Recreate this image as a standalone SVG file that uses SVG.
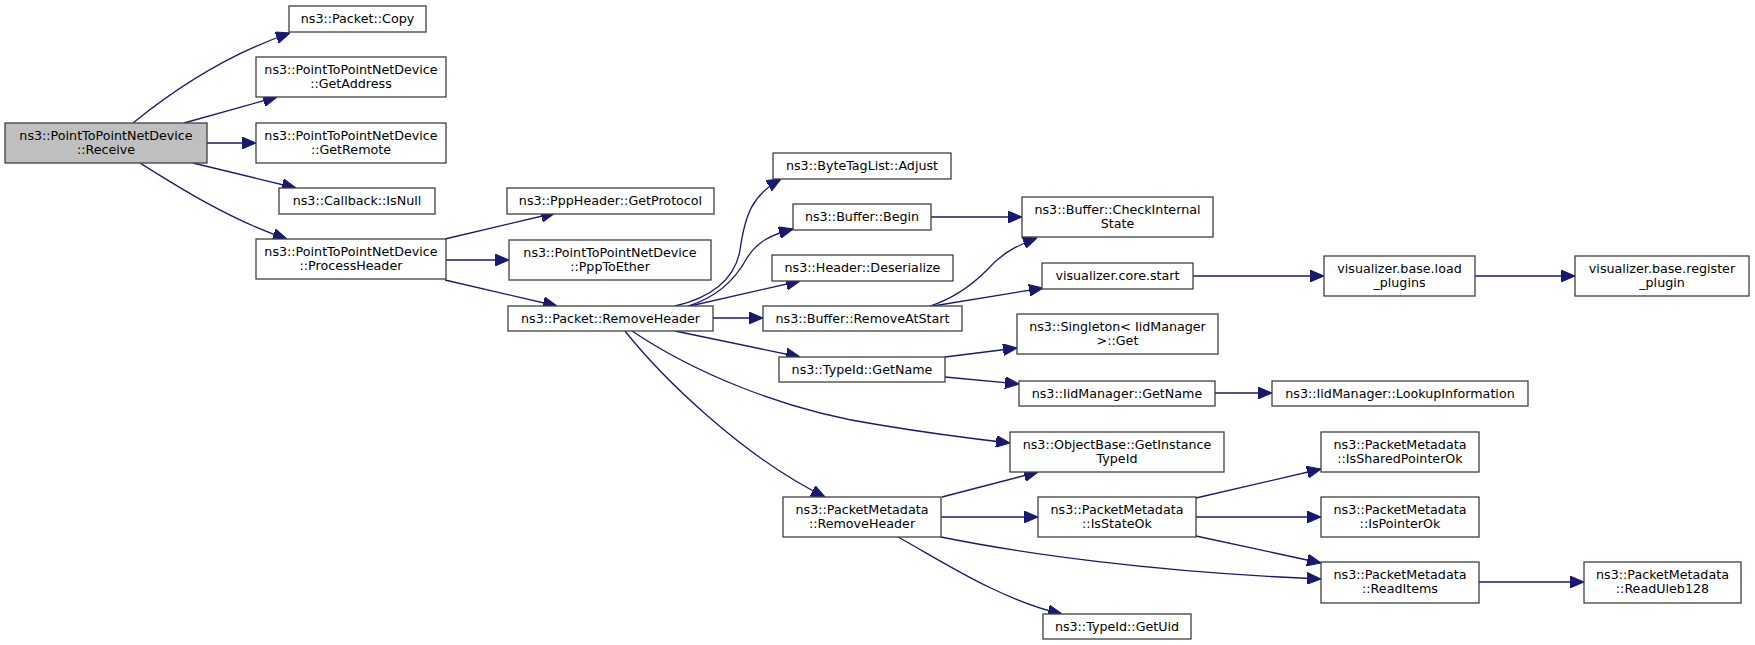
<svg xmlns="http://www.w3.org/2000/svg" width="1755" height="645" viewBox="0 0 1755 645">
<style>
.n rect{fill:#ffffff;stroke:#404040;stroke-width:1.3}
.n.h rect{fill:#bfbfbf}
.n text{font-family:"DejaVu Sans","Liberation Sans",sans-serif;font-size:12.7px;fill:#000;text-anchor:middle}
.e path{fill:none;stroke:#191970;stroke-width:1.3;marker-end:url(#a)}
</style>
<defs>
<marker id="a" markerUnits="userSpaceOnUse" markerWidth="14" markerHeight="12" viewBox="0 0 13 11" refX="13" refY="5.5" orient="auto">
<path d="M0,0 L13,5.5 L0,11 z" fill="#191970" stroke="#191970" stroke-width="1"/>
</marker>
</defs>
<rect width="1755" height="645" fill="#ffffff"/>
<g id="edges" class="e">
<path d="M133,123 C165,97 220,57 290,33"/>
<path d="M184,123 L277,97"/>
<path d="M207,143 L256,143"/>
<path d="M193,163 L296,188"/>
<path d="M140,163 C175,185 230,220 287,239"/>
<path d="M445,239 L555,213"/>
<path d="M446,260 L509,260"/>
<path d="M445,280 L557,306"/>
<path d="M675,306 C710,298 735,280 740,250 C745,215 752,195 781,179"/>
<path d="M688,306 C715,298 735,280 747,258 C757,242 770,235 793,229"/>
<path d="M690,306 L800,281"/>
<path d="M713,318 L763,318"/>
<path d="M675,331 L800,357"/>
<path d="M632,331 C690,370 780,410 880,425 C940,435 975,439 1010,443"/>
<path d="M625,331 C660,375 740,455 825,497"/>
<path d="M931,217 L1022,217"/>
<path d="M930,306 C955,298 972,285 987,270 C1000,255 1015,246 1037,238"/>
<path d="M933,306 L1043,288"/>
<path d="M1193,276 L1324,276"/>
<path d="M1475,276 L1575,276"/>
<path d="M945,357 L1017,348"/>
<path d="M945,377 L1019,384"/>
<path d="M1215,393 L1272,393"/>
<path d="M942,497 L1038,472"/>
<path d="M941,517 L1038,517"/>
<path d="M941,537 C1020,553 1150,572 1321,579"/>
<path d="M898,537 C940,560 1000,600 1062,614"/>
<path d="M1196,498 L1321,469"/>
<path d="M1196,517 L1321,517"/>
<path d="M1196,536 L1321,563"/>
<path d="M1479,582 L1584,582"/>
</g>
<g id="n1" class="n h"><rect x="5" y="123" width="202" height="40"/><text x="106" y="140">ns3::PointToPointNetDevice</text><text x="106" y="154">::Receive</text></g>
<g id="n2" class="n"><rect x="289" y="6" width="137" height="26"/><text x="357.5" y="23">ns3::Packet::Copy</text></g>
<g id="n3" class="n"><rect x="256" y="57" width="190" height="40"/><text x="351" y="74">ns3::PointToPointNetDevice</text><text x="351" y="88">::GetAddress</text></g>
<g id="n4" class="n"><rect x="256" y="123" width="190" height="40"/><text x="351" y="140">ns3::PointToPointNetDevice</text><text x="351" y="154">::GetRemote</text></g>
<g id="n5" class="n"><rect x="279" y="188" width="156" height="26"/><text x="357" y="205">ns3::Callback::IsNull</text></g>
<g id="n6" class="n"><rect x="256" y="239" width="190" height="40"/><text x="351" y="256">ns3::PointToPointNetDevice</text><text x="351" y="270">::ProcessHeader</text></g>
<g id="n7" class="n"><rect x="507" y="188" width="207" height="26"/><text x="610.5" y="205">ns3::PppHeader::GetProtocol</text></g>
<g id="n8" class="n"><rect x="509" y="240" width="202" height="40"/><text x="610" y="257">ns3::PointToPointNetDevice</text><text x="610" y="271">::PppToEther</text></g>
<g id="n9" class="n"><rect x="508" y="306" width="205" height="25"/><text x="610.5" y="323">ns3::Packet::RemoveHeader</text></g>
<g id="n10" class="n"><rect x="773" y="153" width="178" height="26"/><text x="862" y="170">ns3::ByteTagList::Adjust</text></g>
<g id="n11" class="n"><rect x="793" y="204" width="138" height="26"/><text x="862" y="221">ns3::Buffer::Begin</text></g>
<g id="n12" class="n"><rect x="772" y="255" width="181" height="26"/><text x="862.5" y="272">ns3::Header::Deserialize</text></g>
<g id="n13" class="n"><rect x="763" y="306" width="199" height="25"/><text x="862.5" y="323">ns3::Buffer::RemoveAtStart</text></g>
<g id="n14" class="n"><rect x="779" y="357" width="166" height="25"/><text x="862" y="374">ns3::TypeId::GetName</text></g>
<g id="n15" class="n"><rect x="1022" y="197" width="191" height="40"/><text x="1117.5" y="214">ns3::Buffer::CheckInternal</text><text x="1117.5" y="228">State</text></g>
<g id="n16" class="n"><rect x="1042" y="263" width="151" height="26"/><text x="1117.5" y="280">visualizer.core.start</text></g>
<g id="n17" class="n"><rect x="1017" y="314" width="201" height="40"/><text x="1117.5" y="331">ns3::Singleton&lt; IidManager</text><text x="1117.5" y="345">&gt;::Get</text></g>
<g id="n18" class="n"><rect x="1019" y="381" width="196" height="25"/><text x="1117" y="398">ns3::IidManager::GetName</text></g>
<g id="n19" class="n"><rect x="1010" y="432" width="214" height="40"/><text x="1117" y="449">ns3::ObjectBase::GetInstance</text><text x="1117" y="463">TypeId</text></g>
<g id="n20" class="n"><rect x="783" y="497" width="158" height="40"/><text x="862" y="514">ns3::PacketMetadata</text><text x="862" y="528">::RemoveHeader</text></g>
<g id="n21" class="n"><rect x="1043" y="614" width="148" height="25"/><text x="1117" y="631">ns3::TypeId::GetUid</text></g>
<g id="n22" class="n"><rect x="1038" y="497" width="158" height="40"/><text x="1117" y="514">ns3::PacketMetadata</text><text x="1117" y="528">::IsStateOk</text></g>
<g id="n23" class="n"><rect x="1324" y="256" width="151" height="40"/><text x="1399.5" y="273">visualizer.base.load</text><text x="1399.5" y="287">_plugins</text></g>
<g id="n24" class="n"><rect x="1575" y="256" width="174" height="40"/><text x="1662" y="273">visualizer.base.register</text><text x="1662" y="287">_plugin</text></g>
<g id="n25" class="n"><rect x="1272" y="381" width="256" height="25"/><text x="1400" y="398">ns3::IidManager::LookupInformation</text></g>
<g id="n26" class="n"><rect x="1321" y="432" width="158" height="40"/><text x="1400" y="449">ns3::PacketMetadata</text><text x="1400" y="463">::IsSharedPointerOk</text></g>
<g id="n27" class="n"><rect x="1321" y="497" width="158" height="40"/><text x="1400" y="514">ns3::PacketMetadata</text><text x="1400" y="528">::IsPointerOk</text></g>
<g id="n28" class="n"><rect x="1321" y="562" width="158" height="41"/><text x="1400" y="579">ns3::PacketMetadata</text><text x="1400" y="593">::ReadItems</text></g>
<g id="n29" class="n"><rect x="1584" y="562" width="157" height="41"/><text x="1662.5" y="579">ns3::PacketMetadata</text><text x="1662.5" y="593">::ReadUleb128</text></g>
</svg>
